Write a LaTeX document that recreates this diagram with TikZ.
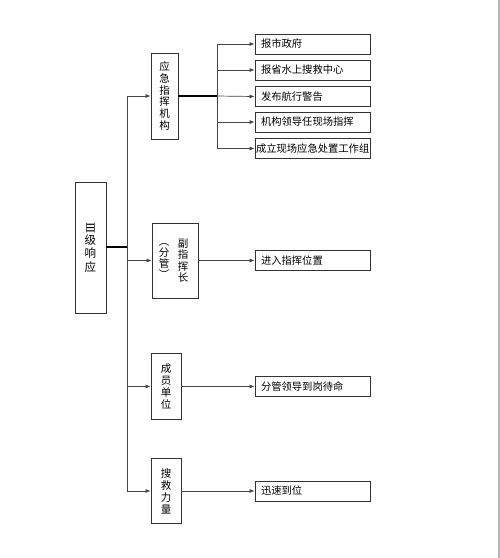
\documentclass[tikz,border=0pt]{standalone}
\usepackage{fontspec}
\setmainfont{Noto Sans CJK SC}
\newfontfamily\romfont{DejaVu Serif}
\usetikzlibrary{arrows.meta}
\definecolor{edgegray}{RGB}{178,182,190}
\definecolor{linegray}{RGB}{70,70,70}
\tikzset{
  box/.style={draw=black!80, line width=0.8pt, inner sep=0pt, align=center, font=\fontsize{10.5}{12}\selectfont},
  rbox/.style={draw=black!80, line width=0.8pt, minimum height=20pt, text width=103pt, inner xsep=6pt, inner ysep=0pt, align=left, font=\fontsize{10.3}{12}\selectfont},
  conn/.style={draw=linegray, line width=0.7pt},
  thick conn/.style={draw=black, line width=1.3pt},
  arr/.style={conn, -{Latex[length=5pt,width=4pt]}},
}
\begin{document}
\begin{tikzpicture}[x=1pt,y=-1pt]
\useasboundingbox (0,0) rectangle (500,558);
\fill[white] (0,0) rectangle (500,558);
\fill[edgegray] (497.5,0) rectangle (500,558);

% main box
\node[box, minimum width=31pt, minimum height=131pt, font=\fontsize{11.5}{13.3}\selectfont] (main) at (90.5,247.5) {\rotatebox{-90}{\romfont Ⅲ}\\级\\响\\应};

% level 2 boxes
\node[box, minimum width=27pt, minimum height=86pt, font=\fontsize{10.5}{11.8}\selectfont] (b1) at (164.5,96) {应\\急\\指\\挥\\机\\构};
\node[box, minimum width=46pt, minimum height=75pt] (b2) at (175,260.5) {};
\node[font=\fontsize{10.5}{11.3}\selectfont, align=center, inner sep=0pt] (b2r) at (183,260.5) {副\\指\\挥\\长};
\node[font=\fontsize{10.5}{11.3}\selectfont, align=center, inner sep=0pt] (b2l) at (164,261) {︵\\分\\管\\︶};
\node[box, minimum width=30pt, minimum height=66pt] (b3) at (166,386.5) {成\\员\\单\\位};
\node[box, minimum width=30pt, minimum height=65pt] (b4) at (166,491) {搜\\救\\力\\量};

% level 3 boxes
\node[rbox] (r1) at (312.5,44) {报市政府};
\node[rbox] (r2) at (312.5,70) {报省水上搜救中心};
\node[rbox] (r3) at (312.5,96.5) {发布航行警告};
\node[rbox] (r4) at (312.5,122) {机构领导任现场指挥};
\node[rbox, text width=113pt, inner xsep=1pt] (r5) at (312.5,148.5) {成立现场应急处置工作组};
\node[rbox] (r6) at (312.5,260.5) {进入指挥位置};
\node[rbox] (r7) at (312.5,386.5) {分管领导到岗待命};
\node[rbox] (r8) at (312.5,491) {迅速到位};

% trunks
\coordinate (t) at (127,247);
\coordinate (t2) at (217,96);
\draw[thick conn] (main.east |- t) -- (t);
\draw[arr] (t) |- (b1.west);
\draw[arr] (t) |- (b2.west);
\draw[arr] (t) |- (b3.west);
\draw[arr] (t) |- (b4.west);

\draw[thick conn] (b1.east) -- (t2);
\draw[arr] (t2) |- (r1.west);
\draw[arr] (t2) |- (r2.west);
\draw[arr] (t2) -- (r3.west);
\draw[arr] (t2) |- (r4.west);
\draw[arr] (t2) |- (r5.west);

\draw[arr] (b2.east) -- (r6.west);
\draw[arr] (b3.east) -- (r7.west);
\draw[arr] (b4.east) -- (r8.west);
\end{tikzpicture}
\end{document}
